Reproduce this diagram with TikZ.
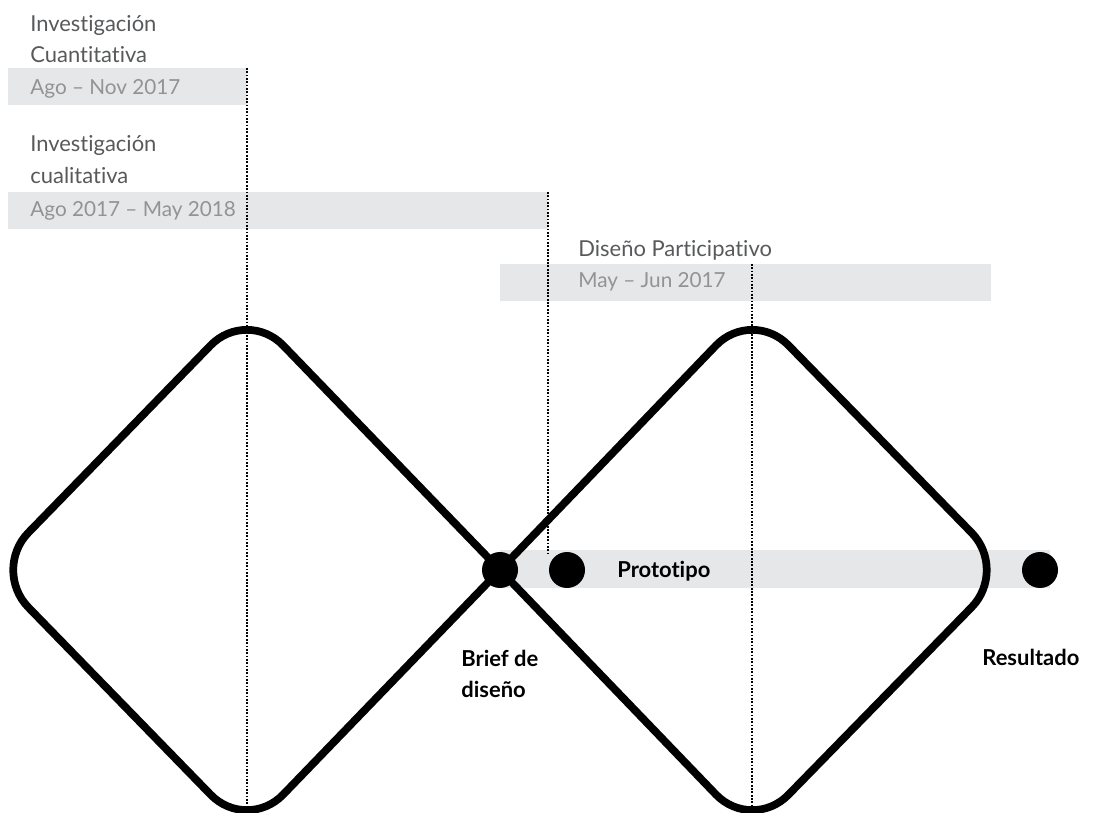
\documentclass[tikz,border=0pt]{standalone}
\usepackage{fontspec}
\setmainfont{Lato}[Ligatures=NoCommon]
\usepackage{tikz}
\usetikzlibrary{positioning}
\definecolor{grisbarra}{HTML}{E6E7E8}
\definecolor{gristexto}{HTML}{58595B}
\definecolor{grisfecha}{HTML}{939393}
\tikzset{
    punto/.style={circle, fill, inner sep=0pt, minimum size=0.72cm}, % puntos negros
    titulo/.style={anchor=base west, inner sep=0pt, text=gristexto, font=\fontsize{12.5}{15}\selectfont}, % titulos de fase
    fecha/.style={anchor=base west, inner sep=0pt, text=grisfecha, font=\fontsize{11.8}{15}\selectfont}, % fechas
    etiqueta/.style={anchor=base west, inner sep=0pt, font=\fontsize{12.5}{15}\selectfont\bfseries}, % hitos
    guia/.style={line width=1.4pt, dash pattern=on 1pt off 0.9pt}, % lineas punteadas
    rombo/.style={line width=4.4pt, rounded corners=1.04cm} % diamantes
}

\begin{document}
\begin{tikzpicture}[x=0.02cm, y=-0.02cm]

    \useasboundingbox (0,0) rectangle (1094,813);

    % barras grises
    \fill[grisbarra] (8,68) rectangle (247,105);
    \fill[grisbarra] (8,192) rectangle (548,229);
    \fill[grisbarra] (500,264) rectangle (991,301);
    \fill[grisbarra] (500,550) rectangle (1050,588);

    % guias punteadas
    \coordinate (g1a) at (247,68);  \coordinate (g1b) at (247,813);
    \coordinate (g2a) at (548,192); \coordinate (g2b) at (548,555);
    \coordinate (g3a) at (752,264); \coordinate (g3b) at (752,813);
    \draw[guia] (g1a) -- (g1b);
    \draw[guia] (g2a) -- (g2b);
    \draw[guia] (g3a) -- (g3b);

    % doble diamante
    \coordinate (cruce) at (500,570);
    \draw[rombo] (cruce) -- (247,308) -- (-8,570) -- (247,832) -- (cruce);
    \draw[rombo] (cruce) -- (752,308) -- (1008,570) -- (752,832) -- (cruce);

    \node[punto] (brief) at (cruce) {};
    \node[punto] (proto) at (567,570) {};
    \node[punto] (result) at (1040,570) {};

    % textos
    \node[titulo] (cuanti1) at (30,32) {Investigación};
    \node[titulo] (cuanti2) at (30,63) {Cuantitativa};
    \node[fecha] (cuantiF) at (30,95) {Ago – Nov 2017};

    \node[titulo] (cuali1) at (30,152) {Investigación};
    \node[titulo] (cuali2) at (30,184) {cualitativa};
    \node[fecha] (cualiF) at (30,217) {Ago 2017 – May 2018};

    \node[titulo] (dise1) at (578,257) {Diseño Participativo};
    \node[fecha] (diseF) at (578,288) {May – Jun 2017};

    \node[etiqueta] (protoT) at (617,577) {Prototipo};
    \node[etiqueta] (brief1) at (461,666) {Brief de};
    \node[etiqueta] (brief2) at (461,697) {diseño};
    \node[etiqueta] (resultT) at (982,665) {Resultado};

\end{tikzpicture}
\end{document}
